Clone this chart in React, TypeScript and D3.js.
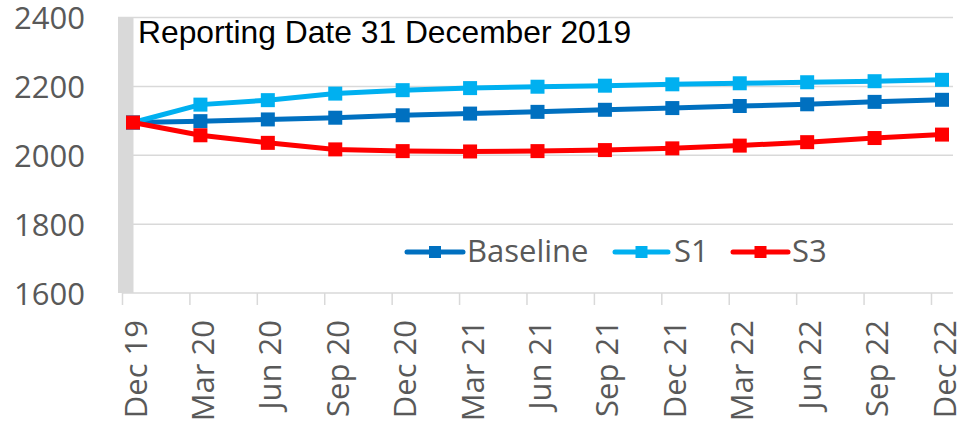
import React from "react";
import * as d3 from "d3";

const categories = ["Dec 19","Mar 20","Jun 20","Sep 20","Dec 20","Mar 21","Jun 21","Sep 21","Dec 21","Mar 22","Jun 22","Sep 22","Dec 22"];
const baseline = [2095,2099,2104,2109,2116,2121,2126,2132,2137,2143,2148,2155,2161];
const s1 = [2095,2147,2160,2179,2189,2195,2199,2202,2206,2209,2212,2215,2219];
const s3 = [2095,2058,2036,2017,2012,2011,2012,2015,2020,2028,2038,2050,2060];
const yTicks = [1600,1800,2000,2200,2400];
const seriesNames = ["Baseline","S1","S3"];
const seriesColors = ["#0070C0","#00B0F0","#FF0000"];
const title = "Reporting Date 31 December 2019";

export default function App() {
  const W = 960, H = 426;
  const x = d3.scalePoint<string>().domain(categories).range([133, 942]);
  const y = d3.scaleLinear().domain([1600, 2400]).range([293, 17.5]);
  const step = x.step();
  const tickOff = step * 0.156;
  const seriesData = [baseline, s1, s3];
  const line = d3.line<number>().x((_, i) => x(categories[i])!).y(d => y(d));
  const font = "'Open Sans', sans-serif";
  const gridX0 = x(categories[0])! - tickOff;
  const gridX1 = 953;
  const legendPos = [
    { l0: 407, l1: 463, t: 467 },
    { l0: 615, l1: 668, t: 674 },
    { l0: 733, l1: 788, t: 792 },
  ];
  return (
    <svg width={W} height={H} style={{ position: "absolute", left: 0, top: 0 }}>
      <rect x={0} y={0} width={W} height={H} fill="#fff" />
      <rect x={118} y={17} width={15.5} height={276} fill="#d9d9d9" />
      {yTicks.map(t => (
        <line key={t} x1={t === 2400 ? 118 : gridX0} x2={gridX1} y1={y(t)} y2={y(t)} stroke="#d9d9d9" strokeWidth={1.5} />
      ))}
      {categories.map(c => (
        <line key={c} x1={x(c)! - tickOff} x2={x(c)! - tickOff} y1={y(1600)} y2={y(1600) + 12} stroke="#d9d9d9" strokeWidth={1.5} />
      ))}
      {yTicks.map(t => (
        <text key={t} x={85} y={y(t) + 11.5} textAnchor="end" fontFamily={font} fontSize={31} fill="#595959">{t}</text>
      ))}
      {categories.map(c => (
        <text key={c} transform={`translate(${x(c)},320) rotate(-90)`} dy={13.5} textAnchor="end" fontFamily={font} fontSize={31} fill="#595959">{c}</text>
      ))}
      <text x={138} y={42.5} fontFamily="'Liberation Sans', Arial, sans-serif" fontSize={31.8} fill="#000">{title}</text>
      {seriesData.map((d, si) => (
        <g key={si}>
          <path d={line(d)!} fill="none" stroke={seriesColors[si]} strokeWidth={5} strokeLinejoin="round" />
          {d.map((v, i) => (
            <rect key={i} x={x(categories[i])! - 7} y={y(v) - 7} width={14} height={14} fill={seriesColors[si]} />
          ))}
        </g>
      ))}
      {seriesNames.map((n, i) => (
        <g key={n}>
          <line x1={legendPos[i].l0} x2={legendPos[i].l1} y1={252} y2={252} stroke={seriesColors[i]} strokeWidth={5} strokeLinecap="round" />
          <rect x={(legendPos[i].l0 + legendPos[i].l1) / 2 - 6} y={246} width={12} height={12} fill={seriesColors[i]} />
          <text x={legendPos[i].t} y={261.7} fontFamily={font} fontSize={31} fill="#595959">{n}</text>
        </g>
      ))}
    </svg>
  );
}
